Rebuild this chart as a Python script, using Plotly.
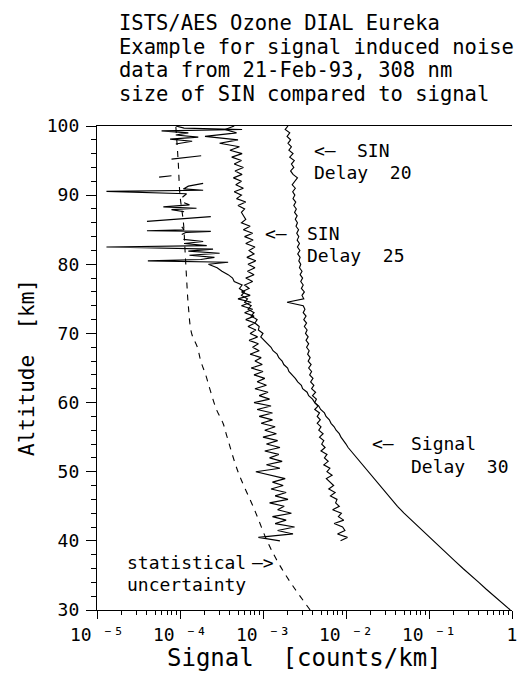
import plotly.graph_objects as go

FONT = "DejaVu Sans Mono"

# ---------------- data ----------------
# SIN, delay 20 (values in 1e-3 counts/km), altitudes 40..100 km every 0.5 km
SIN20_E3 = [
    8.6, 10.4, 7.9, 9.7, 9.1, 7.2, 9.4, 8.1, 8.8, 6.9,
    8.3, 7.5, 7.8, 6.5, 7.4, 6.2, 7.1, 6.4, 5.8, 6.8,
    5.9, 6.4, 5.4, 6.1, 5.5, 5.9, 5.0, 5.6, 5.1, 5.4,
    4.8, 5.3, 4.7, 5.0, 4.5, 4.9, 4.5, 4.8, 4.2, 4.6,
    4.2, 4.4, 3.95, 4.3, 3.85, 4.1, 3.75, 4.0, 3.65, 3.85,
    3.55, 3.8, 3.5, 3.7, 3.45, 3.6, 3.35, 3.55, 3.3, 3.5,
    3.25, 3.4, 3.15, 3.35, 3.1, 3.3, 3.05, 3.2, 3.05, 1.95,
    3.1, 2.95, 3.15, 2.9, 3.05, 2.85, 3.0, 2.8, 2.95, 2.75,
    2.85, 2.7, 2.8, 2.62, 2.78, 2.6, 2.75, 2.58, 2.7, 2.55,
    2.68, 2.5, 2.6, 2.45, 2.58, 2.4, 2.52, 2.35, 2.48, 2.3,
    2.42, 2.28, 2.45, 2.25, 2.4, 2.6, 2.3, 2.15, 2.35, 2.2,
    2.38, 2.1, 2.3, 2.05, 2.2, 2.0, 2.15, 1.95, 2.1, 1.85,
    2.0,
]
# SIN, delay 25 (values in 1e-3 counts/km), altitudes 40..100 km every 0.5 km
SIN25_E3 = [
    1.6, 0.88, 2.3, 1.5, 2.4, 1.4, 1.9, 1.3, 2.2, 1.5,
    1.8, 1.2, 2.0, 1.4, 1.9, 1.25, 1.75, 1.3, 1.85, 1.2,
    0.82, 1.6, 1.1, 1.7, 1.2, 1.55, 1.05, 1.6, 1.1, 1.5,
    1.0, 1.45, 1.05, 1.4, 0.95, 1.3, 0.9, 1.3, 0.85, 1.25,
    0.78, 1.2, 0.9, 1.15, 0.8, 1.1, 0.85, 1.05, 0.78, 1.0,
    0.72, 0.98, 0.8, 0.95, 0.7, 0.9, 0.75, 0.88, 0.68, 0.86,
    0.7, 0.82, 0.66, 0.8, 0.62, 0.78, 0.6, 0.75, 0.55, 0.72,
    0.5, 0.7, 0.55, 0.68, 0.6, 0.75, 0.62, 0.78, 0.65, 0.8,
    0.66, 0.82, 0.64, 0.78, 0.68, 0.8, 0.62, 0.76, 0.6, 0.75,
    0.58, 0.7, 0.55, 0.62, 0.58, 0.55, 0.6, 0.5, 0.62, 0.48,
    0.55, 0.45, 0.58, 0.47, 0.55, 0.44, 0.56, 0.46, 0.58, 0.45,
    0.55, 0.42, 0.56, 0.4, 0.52, 0.3, 0.5, 0.2, 0.48, 0.35,
    0.45,
]
ALT_SIN = [40 + 0.5 * i for i in range(len(SIN20_E3))]

# Signal, delay 30: lower part (counts/km), 30..51 km every 1 km
SIGNAL_LOW_ALT = list(range(30, 52))
SIGNAL_LOW = [0.955, 0.76, 0.617, 0.49, 0.398, 0.316, 0.257, 0.209, 0.17, 0.138,
              0.112, 0.091, 0.074, 0.060, 0.050, 0.0417, 0.0355, 0.0295, 0.0251,
              0.0214, 0.0182, 0.0155]
# middle part (1e-3 counts/km), 52..80 km every 0.5 km
SIGNAL_MID_E3 = [
    13.2, 12.3, 11.5, 10.6, 10.0, 9.3, 8.7, 8.3, 7.6, 7.2,
    6.6, 6.3, 5.75, 5.5, 4.95, 4.7, 4.2, 3.95, 3.55, 3.4,
    3.0, 2.9, 2.62, 2.45, 2.24, 2.05, 1.98, 1.78, 1.7, 1.55,
    1.48, 1.32, 1.25, 1.14, 1.05, 0.94, 1.0, 0.88, 0.9, 0.8,
    0.85, 0.72, 0.78, 0.66, 0.72, 0.6, 0.65, 0.55, 0.6, 0.52,
    0.56, 0.45, 0.43, 0.38, 0.32, 0.28,
    0.22,
]
SIGNAL_MID_ALT = [52 + 0.5 * i for i in range(len(SIGNAL_MID_E3))]
# top part (counts/km); None = negative signal, not drawn on the log axis
SIGNAL_TOP_ALT = [80.3, 80.5, 80.7, 81.0, 81.3, 81.6, 81.9, 82.2, 82.5, 82.7,
                  83.0, 83.3, 83.6, 83.9, 84.3, 84.6, 84.75, 84.85, 85.0, 85.4,
                  85.8, 86.2, 86.9, 87.2, 87.6, 87.9, 88.1, 88.3, 88.6, 88.9,
                  89.2, 89.7, 90.2, 90.55, 90.7, 90.9, 91.3, 91.7, 91.9, 92.6,
                  92.8, 93.0, 95.2, 95.7, 96.0, 97.4, 97.8, 98.1, 98.4, 98.7,
                  99.0, 99.3, 99.5, 99.7, 100.0]
SIGNAL_TOP = [3.8e-4, 4.1e-5, 1.78e-4, 2.6e-4, 1.3e-4, 3.0e-4, 1.26e-4, 2.5e-4, 1.3e-5, 2.1e-4,
              1.12e-4, 1.9e-4, 1.1e-4, None, 1.05e-4, 1.17e-4, 2.35e-4, 4.0e-5, 1.12e-4, 1.05e-4,
              None, 4.0e-5, 2.35e-4, None, 1.12e-4, 7.9e-5, 1.58e-4, 6.3e-5, 1.3e-4, 1.12e-4,
              None, 1.07e-4, 1.2e-4, 1.3e-5, 1.9e-4, 1.1e-4, 1.26e-4, 1.9e-4, None, 5.6e-5,
              7.9e-5, None, 7.9e-5, 1.8e-4, None, 8.9e-5, 1.4e-4, 7.6e-5, 1.66e-4, 8.9e-5,
              1.26e-4, 6.0e-5, 5.6e-4, 1.12e-4, 8.9e-5]

# statistical uncertainty (counts/km)
STAT_ALT = [30, 34, 37, 40, 44.5, 50, 55, 57, 59, 61.5, 64, 66, 68, 70, 74, 78, 82, 86, 90, 95, 100]
STAT_VAL = [3.7e-3, 2.14e-3, 1.5e-3, 1.12e-3, 7.9e-4, 5.0e-4, 3.7e-4, 3.3e-4, 2.75e-4, 2.35e-4,
            2.04e-4, 1.78e-4, 1.62e-4, 1.38e-4, 1.26e-4, 1.2e-4, 1.15e-4, 1.1e-4, 1.0e-4, 9.5e-5, 8.9e-5]

X_TICKS = [1e-5, 1e-4, 1e-3, 1e-2, 1e-1, 1]
X_TICK_TEXT = ["10 \u207b\u2075", "10 \u207b\u2074", "10 \u207b\u00b3",
               "10 \u207b\u00b2", "10 \u207b\u00b9", "1"]
Y_TICKS = [30, 40, 50, 60, 70, 80, 90, 100]

TITLE_LINES = ["ISTS/AES Ozone DIAL Eureka",
               "Example for signal induced noise",
               "data from 21-Feb-93, 308 nm",
               "size of SIN compared to signal"]

# ---------------- figure ----------------
sin20 = [v * 1e-3 for v in SIN20_E3]
sin25 = [v * 1e-3 for v in SIN25_E3]
sig_alt = SIGNAL_LOW_ALT + SIGNAL_MID_ALT + SIGNAL_TOP_ALT
sig_val = SIGNAL_LOW + [v * 1e-3 for v in SIGNAL_MID_E3] + SIGNAL_TOP

line = dict(color="black", width=1.15)
fig = go.Figure()
fig.add_trace(go.Scatter(x=sin20, y=ALT_SIN, mode="lines", line=line))
fig.add_trace(go.Scatter(x=sin25, y=ALT_SIN, mode="lines", line=line))
fig.add_trace(go.Scatter(x=sig_val, y=sig_alt, mode="lines", line=line, connectgaps=False))
fig.add_trace(go.Scatter(x=STAT_VAL, y=STAT_ALT, mode="lines",
                         line=dict(color="black", width=1.1, dash="6px,6px", shape="spline")))

tf = dict(family=FONT, size=18, color="black")
fig.update_xaxes(type="log", range=[-5, 0], showline=True, linecolor="black", linewidth=1.2,
                 mirror=True, ticks="outside", ticklen=8, tickwidth=1, tickcolor="black",
                 tickvals=X_TICKS, ticktext=X_TICK_TEXT, tickfont=tf, showgrid=False, zeroline=False,
                 minor=dict(ticks="outside", ticklen=4, tickwidth=1, tickcolor="black", dtick="D1",
                            showgrid=False))
fig.update_yaxes(range=[30, 100], showline=True, linecolor="black", linewidth=1.2,
                 ticks="outside", ticklen=10, tickwidth=1, tickcolor="black",
                 ticklabelstandoff=3,
                 tickvals=Y_TICKS, tickfont=tf, showgrid=False, zeroline=False,
                 minor=dict(ticks="outside", ticklen=5, tickwidth=1, tickcolor="black", dtick=2,
                            showgrid=False))

ann = []
# title lines
for i, t in enumerate(TITLE_LINES):
    ann.append(dict(text=t, xref="paper", yref="paper", x=0.0476, y=1, xanchor="left",
                    yanchor="middle", yshift=126 - (23 + 23.5 * i), showarrow=False,
                    font=dict(family=FONT, size=20.5, color="black")))
# axis titles
ann.append(dict(text="Signal\u00a0\u00a0[counts/km]", xref="paper", yref="paper", x=0.5, y=0,
                yanchor="middle", yshift=-48, showarrow=False,
                font=dict(family=FONT, size=24, color="black")))
ann.append(dict(text="Altitude\u00a0\u00a0[km]", xref="paper", yref="paper", x=0, y=0.5,
                xanchor="center", yanchor="middle", xshift=-70, textangle=-90, showarrow=False,
                font=dict(family=FONT, size=21, color="black")))

lf = dict(family=FONT, size=18, color="black")
labels = [
    ("<\u2013", -2.405, 96.5), ("SIN", -1.893, 96.5), ("Delay\u00a0\u00a020", -2.405, 93.3),
    ("<\u2013", -3.0, 84.5), ("SIN", -2.5, 84.5), ("Delay\u00a0\u00a025", -2.5, 81.3),
    ("<\u2013", -1.714, 54.15), ("Signal", -1.238, 54.15), ("Delay\u00a0\u00a030", -1.238, 50.7),
    ("statistical", -4.66, 36.9), ("\u2013>", -3.16, 36.9), ("uncertainty", -4.66, 33.7),
]
for t, lx, ly in labels:
    ann.append(dict(text=t, x=lx, y=ly, xref="x", yref="y", xanchor="left", yanchor="middle",
                    showarrow=False, font=lf))

fig.update_layout(width=527, height=674, margin=dict(l=97, r=10, t=126, b=64),
                  paper_bgcolor="white", plot_bgcolor="white", showlegend=False,
                  annotations=ann)
fig.write_html("out.html", config={"displayModeBar": False},
               post_script="document.body.style.margin='0';document.body.style.overflow='hidden';")
